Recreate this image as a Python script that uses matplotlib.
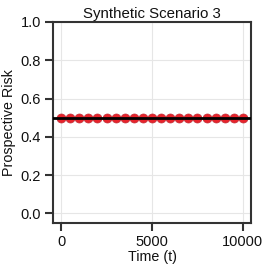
import matplotlib
matplotlib.use("Agg")
import matplotlib.pyplot as plt
import numpy as np

t_values = [0, 500, 1000, 1500, 2000, 2500, 3000, 3500, 4000, 4500, 5000,
            5500, 6000, 6500, 7000, 7500, 8000, 8500, 9000, 9500, 10000]
risk_values = [0.5] * len(t_values)
true_risk = 0.5
x_ticks = [0, 5000, 10000]
y_ticks = [0.0, 0.2, 0.4, 0.6, 0.8, 1.0]

plt.rcParams['font.family'] = ['Liberation Sans', 'DejaVu Sans']

fig = plt.figure(figsize=(2.66, 2.71), dpi=100)
ax = fig.add_axes([0.199, 0.177, 0.745, 0.742])

ax.plot(t_values, risk_values, 'o', color='#e8232b', markersize=6.5,
        markeredgewidth=0.5, markeredgecolor='#c0303a', zorder=2)
ax.axhline(true_risk, color='black', linewidth=2, zorder=3)

ax.set_xlim(-450, 10450)
ax.set_ylim(-0.05, 1.0)
ax.set_xticks(x_ticks)
ax.set_yticks(y_ticks)
ax.grid(True, color='#e6e6e6', linewidth=0.8, zorder=0)
ax.set_axisbelow(True)

for s in ax.spines.values():
    s.set_color('#333333')
    s.set_linewidth(1.5)
ax.tick_params(axis='both', direction='out', length=5.5, width=1.5,
               color='#333333', labelsize=10.5, labelcolor='#111111', pad=3)

ax.set_title('Synthetic Scenario 3', fontsize=10.8, color='#111111', pad=3)
ax.set_xlabel('Time (t)', fontsize=10.3, color='#111111', labelpad=1)
ax.set_ylabel('Prospective Risk', fontsize=10.3, color='#111111', labelpad=3)

fig.savefig('out.png', dpi=100)
